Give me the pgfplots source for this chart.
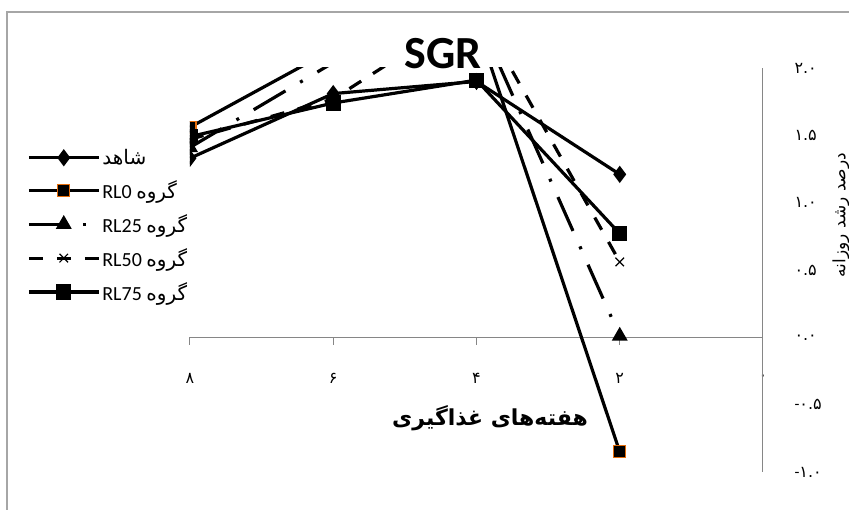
\documentclass[border=0pt]{standalone}
\usepackage{pgfplots}
\pgfplotsset{compat=1.18}
\usepackage{fontspec}
\setmainfont{Carlito}
\newfontfamily\arabicfont[Script=Arabic]{DejaVu Sans}
\TeXXeTstate=1
\definecolor{axisgray}{HTML}{868686}
\definecolor{framegray}{HTML}{A6A6A6}
\definecolor{rlorange}{HTML}{E46C0A}
\newcommand{\fd}[1]{{\arabicfont #1}}

\begin{document}
\begin{tikzpicture}[x=1pt,y=1pt]
\useasboundingbox (0,0) rectangle (849,510);
\draw[framegray, line width=1.5pt] (7,-5) -- (7,498) -- (860,498);
\begin{axis}[
  at={(190pt,38pt)}, anchor=south west,
  width=573pt, height=404pt, scale only axis,
  x dir=reverse, xmin=0, xmax=8, ymin=-1, ymax=2,
  axis line style={draw=none},
  major tick length=0pt,
  clip mode=individual, clip marker paths=true,
  xtick={0,2,4,6,8},
  xticklabels={\fd{۰},\fd{۲},\fd{۴},\fd{۶},\fd{۸}},
  ytick={-1,-0.5,0,0.5,1,1.5,2},
  yticklabels={-\fd{۱.۰},-\fd{۰.۵},\fd{۰.۰},\fd{۰.۵},\fd{۱.۰},\fd{۱.۵},\fd{۲.۰}},
  xtick pos=left, xticklabel pos=left,
  ytick pos=right, yticklabel pos=right,
  xticklabel style={anchor=center, yshift=94pt, font=\fontsize{16}{18}\selectfont},
  yticklabel style={anchor=west, xshift=28pt, font=\fontsize{16}{18}\selectfont},
  title={SGR},
  title style={font=\bfseries\fontsize{46}{50}\selectfont, at={(axis description cs:0.4415,1.02)}, anchor=center},
  xlabel={{\arabicfont\beginR هفته‌های غذاگیری\endR}},
  xlabel style={font=\bfseries\fontsize{22}{26}\selectfont, at={(axis description cs:0.5236,0.134)}, anchor=center},
  ylabel={{\arabicfont\beginR درصد رشد روزانه\endR}},
  ylabel style={font=\fontsize{17}{20}\selectfont, at={(axis description cs:1.136,0.636)}, anchor=center},
  legend style={at={(axis description cs:-0.2845,0.804)}, anchor=north west, draw=none, fill=none,
    inner sep=0pt, row sep=10.5pt, font=\fontsize{20}{23}\selectfont, cells={anchor=west}},
  legend image code/.code={\draw[mark repeat=2,mark phase=2,#1] plot coordinates {(0pt,0pt) (35pt,0pt) (70pt,0pt)};},
  every axis plot/.append style={black, line width=3.2pt},
]
% axis lines and tick marks
\draw[axisgray, line width=1pt] (axis cs:8,0) -- (axis cs:0,0);
\draw[axisgray, line width=1pt] (axis cs:0,-1) -- (axis cs:0,2);
\pgfplotsinvokeforeach{2,4,6,8}{\draw[axisgray, line width=1pt] (axis cs:#1,0) -- ++(0pt,-8pt);}

\addplot[mark=diamond*, mark size=6pt, mark options={solid}] coordinates {
(8,1.33) (6,1.81) (4,1.90) (2,1.21)};
\addlegendentry{{\arabicfont\beginR شاهد\endR}}

\addplot[mark=square*, mark size=6pt, mark options={solid, fill=black, draw=rlorange, line width=1.2pt}] coordinates {
(8,1.56) (6,2.14) (4,2.33) (2,-0.85)};
\addlegendentry{RL0 {\arabicfont\beginR گروه\endR}}

\addplot[dash pattern=on 37pt off 17pt on 3pt off 17pt, mark=triangle*, mark size=6pt, mark options={solid}] coordinates {
(8,1.41) (6,2.04) (4,2.40) (2,0.01)};
\addlegendentry{RL25 {\arabicfont\beginR گروه\endR}}

\addplot[dash pattern=on 14pt off 14pt, mark=x, mark size=6pt, mark options={solid, line width=1.2pt}] coordinates {
(8,1.47) (6,1.77) (4,2.45) (2,0.56)};
\addlegendentry{RL50 {\arabicfont\beginR گروه\endR}}

\addplot[mark=square*, mark size=6pt, mark options={solid}] coordinates {
(8,1.49) (6,1.74) (4,1.91) (2,0.77)};
\addlegendentry{RL75 {\arabicfont\beginR گروه\endR}}
\end{axis}
\end{tikzpicture}
\end{document}
